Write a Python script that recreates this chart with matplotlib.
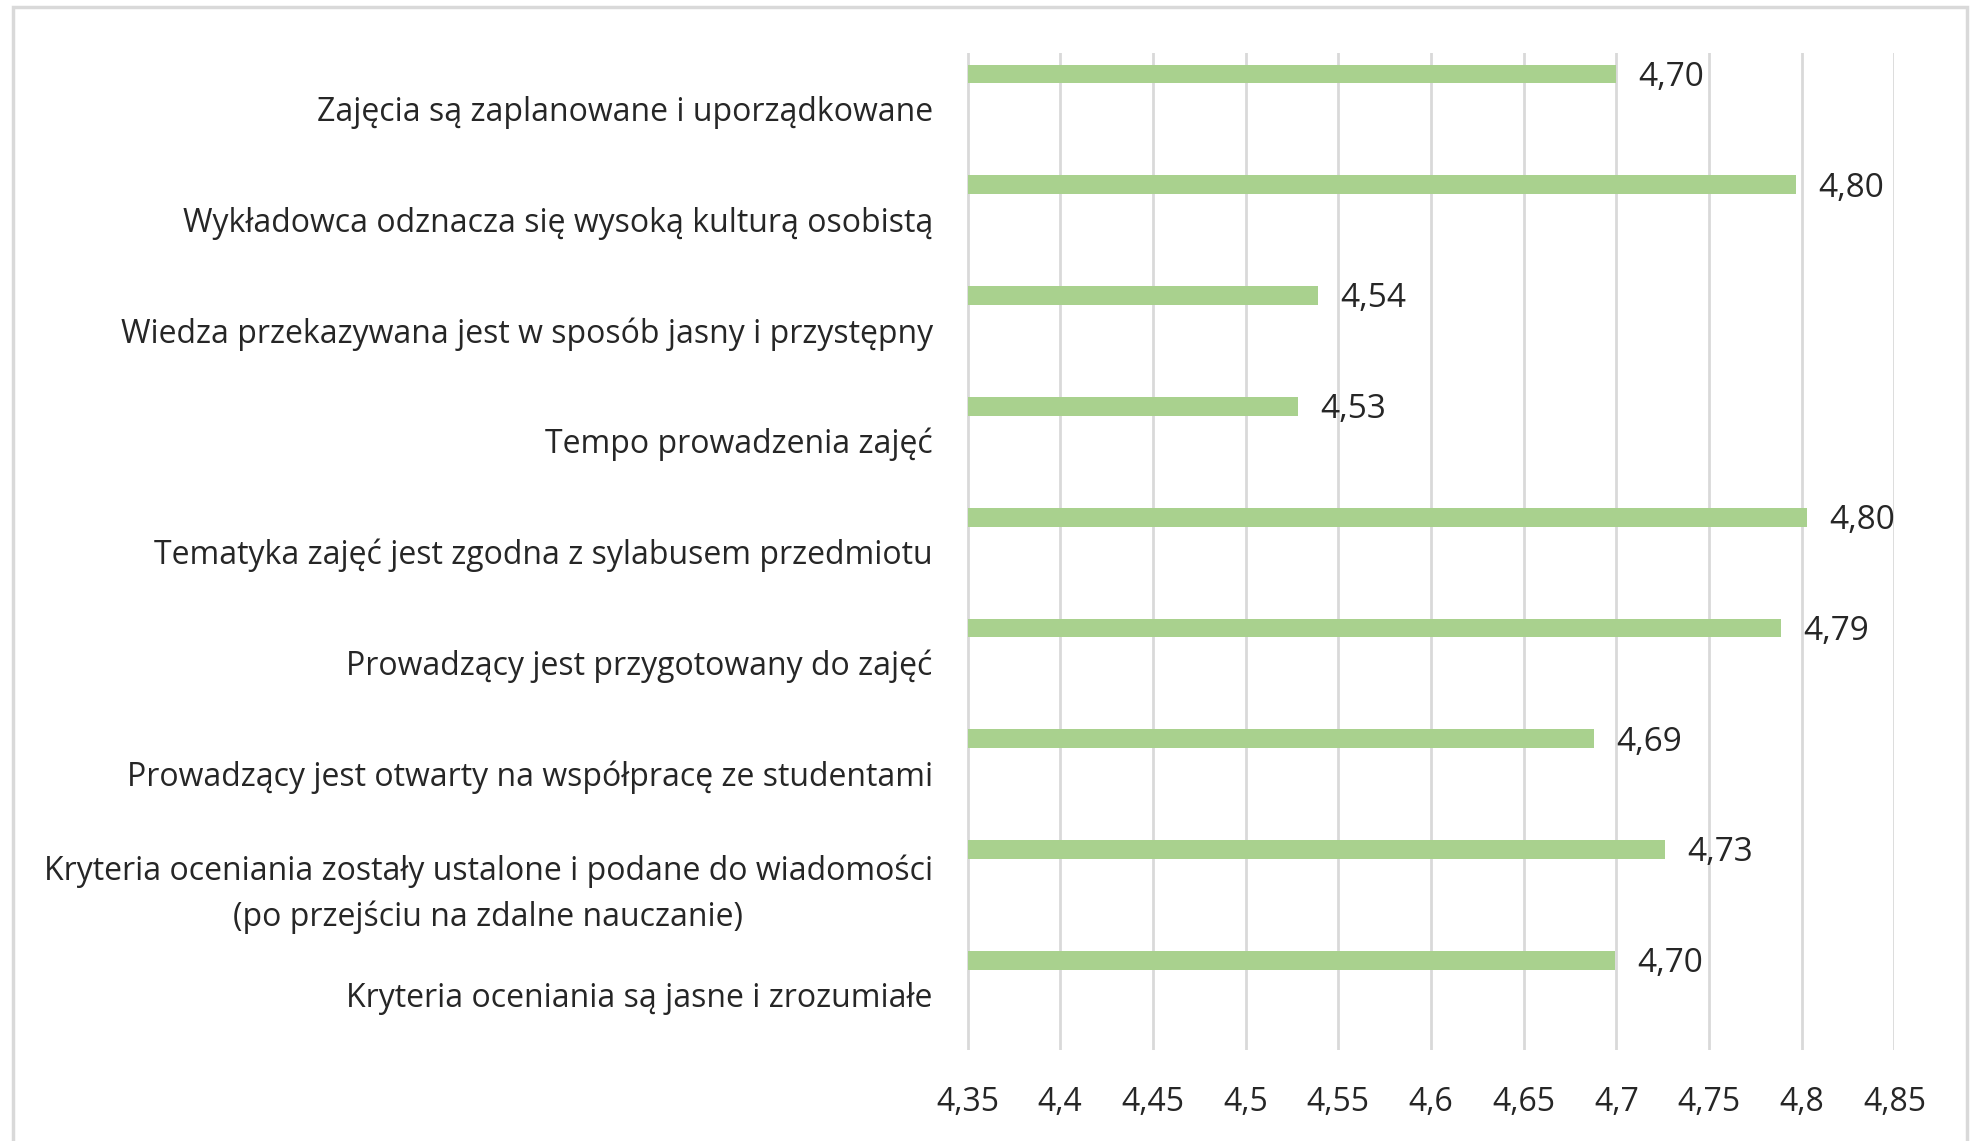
import matplotlib
matplotlib.use("Agg")
import matplotlib.pyplot as plt
from matplotlib.patches import Rectangle
import numpy as np

categories = [
    "Zajęcia są zaplanowane i uporządkowane",
    "Wykładowca odznacza się wysoką kulturą osobistą",
    "Wiedza przekazywana jest w sposób jasny i przystępny",
    "Tempo prowadzenia zajęć",
    "Tematyka zajęć jest zgodna z sylabusem przedmiotu",
    "Prowadzący jest przygotowany do zajęć",
    "Prowadzący jest otwarty na współpracę ze studentami",
    "Kryteria oceniania zostały ustalone i podane do wiadomości\n(po przejściu na zdalne nauczanie)",
    "Kryteria oceniania są jasne i zrozumiałe",
]
values = [4.70, 4.797, 4.539, 4.528, 4.803, 4.789, 4.688, 4.726, 4.699]
xticks = [4.35, 4.40, 4.45, 4.50, 4.55, 4.60, 4.65, 4.70, 4.75, 4.80, 4.85]

plt.rcParams['font.family'] = ['Open Sans', 'DejaVu Sans']
FS = 23
W, H = 1983, 1141
fig = plt.figure(figsize=(W/100, H/100), dpi=100)
ax = fig.add_axes([967.5/W, 1-1050/H, (1894.5-967.5)/W, (1050-53)/H])

y = np.arange(len(categories))
ax.barh(y - 0.31, [v - 4.35 for v in values], left=4.35, height=0.17, color="#a9d18e", zorder=3)
for yi, v in zip(y, values):
    ax.text(v + 0.012, yi - 0.28, f"{v:.2f}".replace('.', ','), va='center', ha='left',
            fontsize=24, color='#262626')

ax.set_xlim(4.35, 4.85)
ax.set_ylim(len(categories) - 0.5, -0.5)
ax.set_xticks(xticks)
ax.set_xticklabels([f"{t:g}".replace('.', ',') for t in xticks], fontsize=FS, color='#262626')
ax.set_yticks(y)
ax.set_yticklabels(categories, fontsize=FS, color='#262626', ha='right',
                   multialignment='center', linespacing=1.5)
ax.tick_params(axis='x', length=0, pad=26)
ax.tick_params(axis='y', length=0, pad=25)
ax.grid(axis='x', color='#d9d9d9', linewidth=2, zorder=0)
for s in ax.spines.values():
    s.set_visible(False)

fig.patches.append(Rectangle((13/W, -0.05), (1967-13)/W, 1.05 - 7/H, transform=fig.transFigure,
                             fill=False, edgecolor='#d9d9d9', linewidth=2.5))
fig.savefig("out.png", dpi=100)
